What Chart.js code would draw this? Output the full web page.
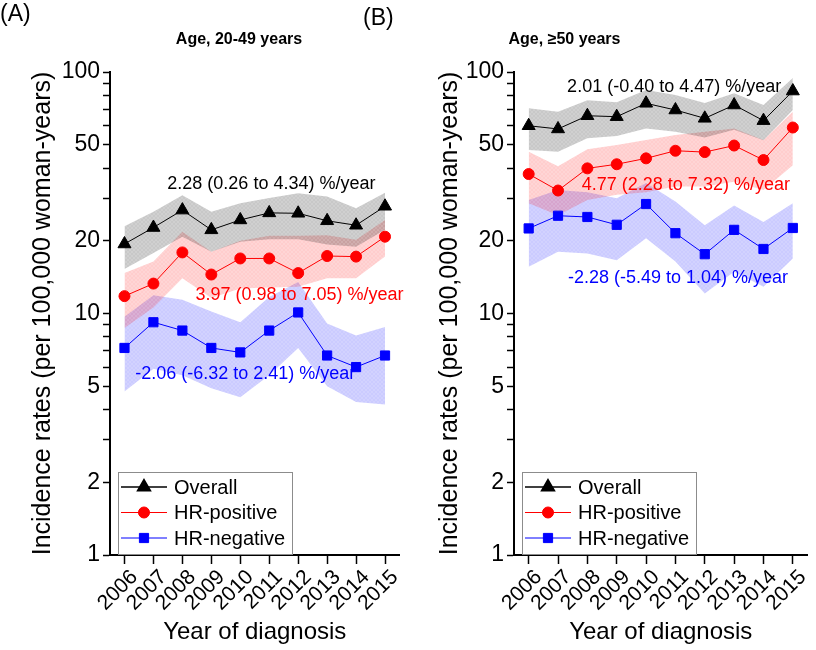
<!DOCTYPE html>
<html>
<head>
<meta charset="utf-8">
<script src="https://cdn.jsdelivr.net/npm/chart.js@4.4.1/dist/chart.umd.min.js"></script>
<style>
  body { margin: 0; background: #fff; width: 816px; height: 650px; overflow: hidden; position: relative; }
  canvas { position: absolute; top: 0; }
  #chartA { left: 0; }
  #chartB { left: 360px; }
</style>
</head>
<body>
<canvas id="chartA" width="408" height="650"></canvas>
<canvas id="chartB" width="456" height="650"></canvas>
<script>
"use strict";
const FONT = "'Liberation Sans', Arial, sans-serif";

const years = ['2006', '2007', '2008', '2009', '2010', '2011', '2012', '2013', '2014', '2015'];
const yTicks = [1, 2, 3, 4, 5, 6, 7, 8, 9, 10, 20, 30, 40, 50, 60, 70, 80, 90, 100];
const yLabels = [1, 2, 5, 10, 20, 50, 100];

// (A) age 20-49
const overallYoung   = [19.4, 22.7, 26.8, 22.2, 24.4, 26.1, 26.0, 24.2, 23.2, 27.8];
const overallYoungLo = [15.3, 17.8, 20.8, 18.0, 19.8, 20.3, 20.3, 19.3, 18.9, 22.2];
const overallYoungHi = [23.0, 26.4, 30.9, 26.4, 28.6, 30.1, 31.5, 30.5, 27.3, 31.6];
const hrPosYoung     = [11.8, 13.3, 17.9, 14.5, 16.9, 16.9, 14.7, 17.3, 17.2, 20.8];
const hrPosYoungLo   = [8.7, 10.6, 14.0, 11.6, 12.7, 12.8, 12.9, 14.0, 14.0, 17.2];
const hrPosYoungHi   = [14.7, 16.4, 21.8, 18.0, 20.0, 21.0, 21.0, 21.1, 20.2, 24.4];
const hrNegYoung     = [7.2, 9.2, 8.5, 7.2, 6.9, 8.5, 10.1, 6.7, 6.0, 6.7];
const hrNegYoungLo   = [4.75, 5.9, 5.55, 4.9, 4.5, 5.55, 7.2, 5.0, 4.3, 4.2];
const hrNegYoungHi   = [9.7, 11.9, 11.4, 10.2, 9.2, 11.7, 13.5, 9.1, 8.1, 8.8];

// (B) age >=50
const overallOld   = [59.9, 58.1, 65.9, 65.3, 74.2, 69.6, 64.3, 73.0, 62.9, 83.4];
const overallOldLo = [47.5, 46.8, 53.2, 54.3, 58.4, 56.6, 53.6, 57.6, 52.2, 69.6];
const overallOldHi = [70.7, 68.5, 76.3, 75.0, 84.3, 80.4, 74.4, 81.6, 73.0, 94.5];
const hrPosOld     = [37.8, 32.3, 39.9, 41.5, 43.9, 47.2, 46.6, 49.6, 43.2, 58.9];
const hrPosOldLo   = [28.6, 25.5, 29.5, 31.0, 31.8, 33.6, 33.6, 35.1, 32.5, 41.1];
const hrPosOldHi   = [46.8, 40.7, 47.9, 49.9, 52.3, 54.9, 56.6, 58.4, 52.3, 68.5];
const hrNegOld     = [22.5, 25.4, 25.1, 23.3, 28.4, 21.5, 17.6, 22.2, 18.5, 22.6];
const hrNegOldLo   = [15.6, 18.0, 17.7, 16.6, 20.5, 16.4, 12.1, 14.9, 12.9, 16.9];
const hrNegOldHi   = [29.5, 32.5, 31.8, 30.0, 34.7, 29.1, 23.2, 28.0, 23.9, 28.6];

const seriesNames = ['Overall', 'HR-positive', 'HR-negative'];
const seriesColors = ['#000000', '#ff0000', '#0000ff'];
const bandRgb = ['0,0,0', '255,0,0', '0,0,255'];
const bandAlpha = [0.2, 0.18, 0.19];
const markers = ['triangle', 'circle', 'rect'];
const markerSizes = [7.5, 5.5, 6.5];

// fine cross-hatch like the shaded confidence bands
function hatch(rgb, alpha) {
  const c = document.createElement('canvas');
  c.width = 4;
  c.height = 4;
  const g = c.getContext('2d');
  g.fillStyle = `rgba(${rgb},${alpha * 1.08})`;
  g.fillRect(0, 0, 4, 4);
  g.fillStyle = `rgba(${rgb},${alpha * 0.92})`;
  [[0, 0], [1, 1], [2, 2], [3, 3], [3, 0], [2, 1], [1, 2], [0, 3]].forEach(([x, y]) => {
    g.clearRect(x, y, 1, 1);
    g.fillRect(x, y, 1, 1);
  });
  return g.createPattern(c, 'repeat');
}

function buildDatasets(groups) {
  const sets = [];
  groups.forEach((g, i) => {
    sets.push({ label: seriesNames[i] + ' upper', data: g.hi, fill: '+1', backgroundColor: hatch(bandRgb[i], bandAlpha[i]),
      borderWidth: 0, pointRadius: 0, order: 10 });
    sets.push({ label: seriesNames[i] + ' lower', data: g.lo, fill: false, borderWidth: 0, pointRadius: 0, order: 10 });
  });
  groups.forEach((g, i) => {
    sets.push({ label: seriesNames[i], data: g.mid, fill: false, borderColor: seriesColors[i], borderWidth: 1,
      pointStyle: markers[i], pointRadius: markerSizes[i], pointBackgroundColor: seriesColors[i],
      pointBorderColor: seriesColors[i], pointBorderWidth: 1, order: i, inLegend: true });
  });
  return sets;
}

// legend box sitting in the lower left corner of the plot
const insideLegend = {
  id: 'insideLegend',
  afterDraw(chart, args, opts) {
    const { ctx, chartArea } = chart;
    const left = chartArea.left + opts.offsetX;
    const bottom = chartArea.bottom - 1;
    const top = bottom - opts.height;
    ctx.save();
    ctx.fillStyle = '#fff';
    ctx.fillRect(left, top, opts.width, opts.height);
    ctx.strokeStyle = '#8c8c8c';
    ctx.lineWidth = 1;
    ctx.strokeRect(left + 0.5, top + 0.5, opts.width, opts.height);
    chart.data.datasets.filter(d => d.inLegend).forEach((d, i) => {
      const y = top + opts.firstRow + i * opts.rowGap;
      ctx.strokeStyle = d.borderColor;
      ctx.lineWidth = i === 0 ? 1.5 : 1;
      ctx.beginPath();
      ctx.moveTo(left + 3, y);
      ctx.lineTo(left + 49, y);
      ctx.stroke();
      ctx.fillStyle = d.pointBackgroundColor;
      Chart.helpers.drawPoint(ctx, { pointStyle: d.pointStyle, radius: d.pointRadius, rotation: 0, borderWidth: 1 }, left + 26, y);
      ctx.fillStyle = '#000';
      ctx.font = '20px ' + FONT;
      ctx.textBaseline = 'middle';
      ctx.textAlign = 'left';
      ctx.fillText(d.label, left + 56, y + 1);
    });
    ctx.restore();
  }
};

// trend notes placed in data coordinates
const rateNotes = {
  id: 'rateNotes',
  afterDatasetsDraw(chart, args, opts) {
    const { ctx, scales } = chart;
    ctx.save();
    ctx.font = '18px ' + FONT;
    ctx.textBaseline = 'middle';
    ctx.textAlign = 'left';
    opts.items.forEach(n => {
      ctx.fillStyle = n.color;
      ctx.fillText(n.text, scales.x.getPixelForValue(n.x), scales.y.getPixelForValue(n.y));
    });
    ctx.restore();
  }
};

// panel letter and heading
const panelText = {
  id: 'panelText',
  afterDraw(chart, args, opts) {
    const ctx = chart.ctx;
    ctx.save();
    ctx.fillStyle = '#000';
    ctx.textBaseline = 'middle';
    opts.items.forEach(t => {
      ctx.font = t.font;
      ctx.textAlign = t.align;
      ctx.fillText(t.text, t.x, t.y);
    });
    ctx.restore();
  }
};

function makeScales(axisWidth, titlePad) {
  return {
    x: {
      type: 'category',
      offset: true,
      grid: { drawOnChartArea: false, drawTicks: true, tickLength: 9, tickColor: '#000', tickWidth: 1.5 },
      border: { color: '#000', width: 2 },
      ticks: { color: '#000', font: { family: FONT, size: 21 }, minRotation: 45, maxRotation: 45,
        padding: 1, labelOffset: 10, autoSkip: false },
      title: { display: true, text: 'Year of diagnosis', color: '#000', font: { family: FONT, size: 24 }, padding: { top: 0, bottom: 3 } },
      afterFit(s) { s.height = 95; }
    },
    y: {
      type: 'logarithmic',
      min: 1,
      max: 100,
      afterBuildTicks(s) { s.ticks = yTicks.map(v => ({ value: v })); },
      grid: { drawOnChartArea: false, drawTicks: true, tickLength: 7, tickColor: '#000', tickWidth: 1.5 },
      border: { color: '#000', width: 2 },
      ticks: { autoSkip: false, color: '#000', font: { family: FONT, size: 23 }, padding: 3,
        callback: v => yLabels.includes(v) ? String(v) : '' },
      title: { display: true, text: 'Incidence rates (per 100,000 woman-years)', color: '#000',
        font: { family: FONT, size: 25 }, padding: { top: titlePad, bottom: 0 } },
      afterFit(s) { s.width = axisWidth; }
    }
  };
}

function makeChart(canvasId, groups, axisWidth, titlePad, padRight, notes, headings) {
  return new Chart(document.getElementById(canvasId), {
    type: 'line',
    plugins: [rateNotes, insideLegend, panelText],
    data: { labels: years, datasets: buildDatasets(groups) },
    options: {
      responsive: false,
      animation: false,
      events: [],
      layout: { padding: { left: 0, right: padRight, top: 72, bottom: 0 } },
      scales: makeScales(axisWidth, titlePad),
      plugins: {
        legend: { display: false },
        tooltip: { enabled: false },
        rateNotes: { items: notes },
        insideLegend: { offsetX: 8, width: 174, height: 82, firstRow: 15, rowGap: 25.5 },
        panelText: { items: headings }
      }
    }
  });
}

makeChart('chartA', [
  { mid: overallYoung, lo: overallYoungLo, hi: overallYoungHi },
  { mid: hrPosYoung, lo: hrPosYoungLo, hi: hrPosYoungHi },
  { mid: hrNegYoung, lo: hrNegYoungLo, hi: hrNegYoungHi }
], 110, 28, 0, [
  { text: '2.28 (0.26 to 4.34) %/year', color: '#000', x: 1.48, y: 34.4 },
  { text: '3.97 (0.98 to 7.05) %/year', color: '#ff0000', x: 2.45, y: 11.9 },
  { text: '-2.06 (-6.32 to 2.41) %/year', color: '#0000ff', x: 0.37, y: 5.62 }
], [
  { text: '(A)', x: 0, y: 15, font: '23px ' + FONT, align: 'left' },
  { text: 'Age, 20-49 years', x: 239, y: 40, font: 'bold 16px ' + FONT, align: 'center' }
]);

makeChart('chartB', [
  { mid: overallOld, lo: overallOldLo, hi: overallOldHi },
  { mid: hrPosOld, lo: hrPosOldLo, hi: hrPosOldHi },
  { mid: hrNegOld, lo: hrNegOldLo, hi: hrNegOldHi }
], 154, 75, 4, [
  { text: '2.01 (-0.40 to 4.47) %/year', color: '#000', x: 1.31, y: 86.7 },
  { text: '4.77 (2.28 to 7.32) %/year', color: '#ff0000', x: 1.81, y: 34.0 },
  { text: '-2.28 (-5.49 to 1.04) %/year', color: '#0000ff', x: 1.34, y: 14.0 }
], [
  { text: '(B)', x: 3, y: 19, font: '23px ' + FONT, align: 'left' },
  { text: 'Age, \u226550 years', x: 204.5, y: 40, font: 'bold 16px ' + FONT, align: 'center' }
]);
</script>
</body>
</html>
